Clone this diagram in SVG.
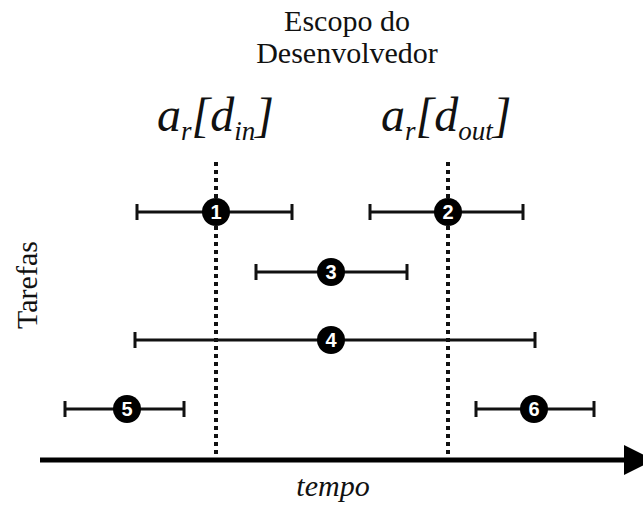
<svg xmlns="http://www.w3.org/2000/svg" width="643" height="506" viewBox="0 0 643 506">
<defs>
<style>
.t{font-family:"Liberation Serif","Times New Roman",serif;fill:#111}
.big{font-family:"Liberation Serif","Times New Roman",serif;font-style:italic;font-size:48px;fill:#111}
.bar{stroke:#111;stroke-width:3;fill:none}
.dot{stroke:#111;stroke-width:4;stroke-dasharray:4 4;fill:none}
.c{fill:#000}
.n{font-family:"Liberation Sans",Arial,sans-serif;font-weight:bold;font-size:20px;fill:#fff;text-anchor:middle}
</style>
<marker id="arr" viewBox="0 0 10 10" refX="0" refY="5" markerWidth="6" markerHeight="10" markerUnits="strokeWidth" orient="auto"><path d="M0,0 L10,5 L0,10 z" fill="#000"/></marker>
</defs>
<g id="title"><text class="t" x="347" y="31" font-size="30" text-anchor="middle">Escopo do</text><text class="t" x="347" y="63" font-size="30" text-anchor="middle">Desenvolvedor</text></g>
<g id="label-in"><text class="big" x="157" y="131">a<tspan font-size="27" dy="9">r</tspan><tspan dy="-9">[d</tspan><tspan font-size="27" dy="9">in</tspan><tspan dy="-9">]</tspan></text></g>
<g id="label-out"><text class="big" x="381" y="131">a<tspan font-size="27" dy="9">r</tspan><tspan dy="-9">[d</tspan><tspan font-size="27" dy="9">out</tspan><tspan dy="-9">]</tspan></text></g>
<g id="ylabel"><text class="t" font-size="30" text-anchor="middle" transform="translate(37,285) rotate(-90)">Tarefas</text></g>
<g id="connectors">
<line class="dot" x1="216" y1="162" x2="216" y2="460"/>
<line class="dot" x1="448" y1="162" x2="448" y2="460"/>
<line x1="40" y1="460" x2="624" y2="460" stroke="#000" stroke-width="5" marker-end="url(#arr)"/>
</g>
<g id="task1"><path class="bar" d="M137,212 H292 M137,204 V220 M292,204 V220"/><circle class="c" cx="216" cy="212" r="14"/><text class="n" x="216" y="219">1</text></g>
<g id="task2"><path class="bar" d="M370,212 H523 M370,204 V220 M523,204 V220"/><circle class="c" cx="448" cy="212" r="14"/><text class="n" x="448" y="219">2</text></g>
<g id="task3"><path class="bar" d="M256,272 H407 M256,264 V280 M407,264 V280"/><circle class="c" cx="331" cy="272" r="14"/><text class="n" x="331" y="279">3</text></g>
<g id="task4"><path class="bar" d="M135,340 H535 M135,332 V348 M535,332 V348"/><circle class="c" cx="331" cy="340" r="14"/><text class="n" x="331" y="347">4</text></g>
<g id="task5"><path class="bar" d="M65,409 H184 M65,401 V417 M184,401 V417"/><circle class="c" cx="127" cy="409" r="14"/><text class="n" x="127" y="416">5</text></g>
<g id="task6"><path class="bar" d="M476,409 H594 M476,401 V417 M594,401 V417"/><circle class="c" cx="534" cy="409" r="14"/><text class="n" x="534" y="416">6</text></g>
<g id="xlabel"><text class="t" font-size="30" font-style="italic" text-anchor="middle" x="333" y="496">tempo</text></g>
</svg>
